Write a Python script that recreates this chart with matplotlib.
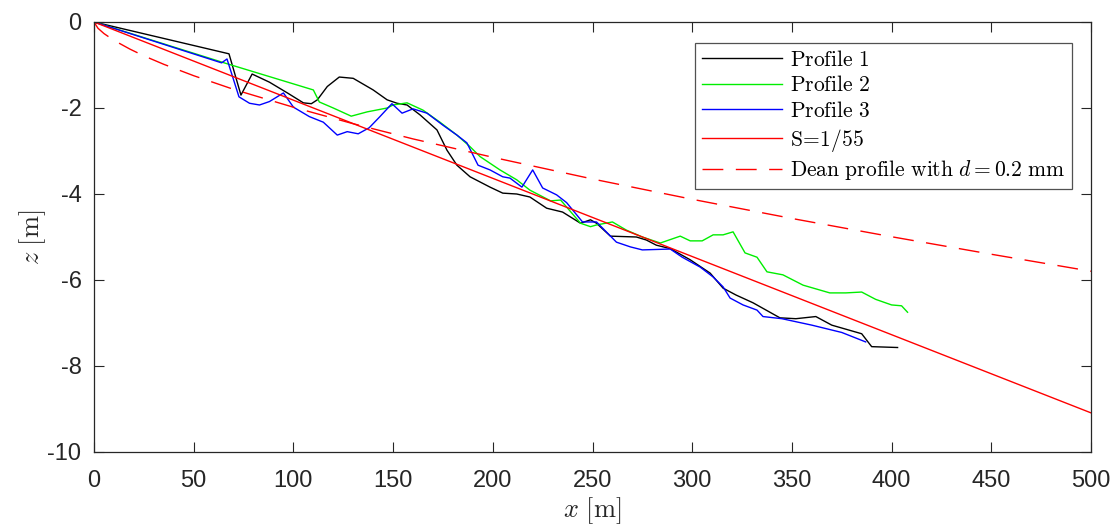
import matplotlib
matplotlib.use("Agg")
import matplotlib.pyplot as plt

# ---------------- data ----------------
p1_x = [0, 67.7, 73.7, 79.3, 88, 97, 105, 109, 112, 117, 123, 130, 140, 147, 152, 157,
        163.5, 172, 177, 182, 188.6, 198.6, 205, 212, 218.6, 227, 235, 244, 249, 252,
        259, 272, 277, 282, 289, 299, 309, 315.5, 322, 330.5, 344, 352, 362, 370, 385,
        390, 403]
p1_z = [0, -0.74, -1.70, -1.21, -1.40, -1.65, -1.88, -1.90, -1.81, -1.50, -1.28, -1.31,
        -1.58, -1.81, -1.89, -1.93, -2.16, -2.51, -2.98, -3.33, -3.60, -3.84, -3.98, -4.00,
        -4.07, -4.33, -4.42, -4.68, -4.60, -4.68, -4.98, -5.00, -5.07, -5.19, -5.27, -5.53,
        -5.84, -6.19, -6.35, -6.53, -6.88, -6.90, -6.85, -7.05, -7.25, -7.55, -7.57]

p2_x = [0, 66, 110, 113, 120, 129, 137, 147, 150, 157, 165, 173.5, 182, 188.6, 193.6,
        203.6, 212, 218.6, 229, 234, 244, 249, 252, 260, 267, 275, 284, 294, 299, 305,
        310.5, 315.5, 320.5, 326.5, 332.5, 337.5, 345.5, 355.6, 369, 377, 385, 392, 400,
        405, 408]
p2_z = [0, -0.96, -1.58, -1.86, -2.00, -2.19, -2.09, -2.00, -1.93, -1.88, -2.05, -2.33,
        -2.63, -2.90, -3.13, -3.44, -3.67, -3.91, -4.16, -4.14, -4.68, -4.76, -4.72, -4.65,
        -4.84, -5.00, -5.14, -4.98, -5.09, -5.09, -4.95, -4.95, -4.88, -5.37, -5.47, -5.81,
        -5.88, -6.12, -6.30, -6.30, -6.28, -6.45, -6.58, -6.60, -6.75]

p3_x = [0, 64, 66.7, 72.7, 78, 83, 88, 95, 100, 108, 115, 122, 127, 132.5, 138, 143.4,
        149.4, 154.5, 160, 167, 175, 182, 187, 192.6, 198.6, 205, 208.6, 214.6, 220, 225,
        232, 237, 245, 252, 262, 269, 275, 289, 295, 304, 310.5, 315.5, 319, 325.5, 332.5,
        335.5, 345, 360, 375, 387]
p3_z = [0, -0.95, -0.86, -1.74, -1.89, -1.93, -1.85, -1.65, -1.98, -2.20, -2.33, -2.63,
        -2.55, -2.60, -2.46, -2.20, -1.90, -2.12, -2.02, -2.12, -2.40, -2.63, -2.81, -3.33,
        -3.44, -3.60, -3.63, -3.84, -3.44, -3.86, -4.02, -4.20, -4.65, -4.65, -5.12, -5.23,
        -5.30, -5.28, -5.47, -5.70, -5.93, -6.16, -6.42, -6.58, -6.70, -6.85, -6.90, -7.05,
        -7.22, -7.44]

slope_x = [0, 500]
slope_z = [0, -9.09]

dean_x = [0, 2, 5, 10, 18, 25, 35, 50, 70, 100, 130, 160, 200, 250, 300, 350, 400, 450, 500]
dean_z = [0, -0.146, -0.269, -0.427, -0.630, -0.787, -0.984, -1.249, -1.566, -1.982,
          -2.366, -2.719, -3.146, -3.651, -4.123, -4.569, -4.994, -5.401, -5.796]

labels = [r'$\mathrm{Profile\ 1}$', r'$\mathrm{Profile\ 2}$', r'$\mathrm{Profile\ 3}$',
          r'$\mathrm{S\!=\!1/55}$', r'$\mathrm{Dean\ profile\ with\ }d=0.2\mathrm{\ mm}$']

xticks = [0, 50, 100, 150, 200, 250, 300, 350, 400, 450, 500]
yticks = [0, -2, -4, -6, -8, -10]

# ---------------- style ----------------
plt.rcParams['mathtext.fontset'] = 'cm'
plt.rcParams['font.family'] = ['Liberation Sans', 'DejaVu Sans']
axcol = '#262626'

fig = plt.figure(figsize=(11.13, 5.29), dpi=100)
ax = fig.add_axes([94/1113, 1-452/529, (1091-94)/1113, (452-22)/529])

lw = 1.0
ax.plot(p1_x, p1_z, color='black', lw=lw, label=labels[0])
ax.plot(p2_x, p2_z, color='#00ee00', lw=lw, label=labels[1])
ax.plot(p3_x, p3_z, color='#0000ff', lw=lw, label=labels[2])
ax.plot(slope_x, slope_z, color='#ff0000', lw=lw, label=labels[3])
ax.plot(dean_x, dean_z, color='#ff0000', lw=lw, dashes=(15, 9), label=labels[4])

ax.set_xlim(0, 500)
ax.set_ylim(-10, 0)
ax.set_xticks(xticks)
ax.set_yticks(yticks)
ax.set_xticklabels([str(v) for v in xticks])
ax.set_yticklabels([str(v) for v in yticks])
ax.tick_params(direction='in', length=7, width=0.8, colors=axcol, labelsize=17,
               top=True, right=True)
ax.tick_params(axis='x', pad=13)
ax.tick_params(axis='y', pad=9)
for s in ax.spines.values():
    s.set_color(axcol)
    s.set_linewidth(0.9)

ax.set_xlabel(r'$x\ [\mathrm{m}]$', fontsize=19, color=axcol, labelpad=2)
ax.set_ylabel(r'$z\ [\mathrm{m}]$', fontsize=19, color=axcol, labelpad=0)

leg = ax.legend(loc='upper right', bbox_to_anchor=(0.981, 0.951), fontsize=15.5,
                frameon=True, fancybox=False, edgecolor=axcol, handlelength=3.7,
                borderpad=0.3, labelspacing=0.22, handletextpad=0.4, borderaxespad=0)
leg.get_frame().set_linewidth(0.9)

fig.savefig('out.png', dpi=100)
